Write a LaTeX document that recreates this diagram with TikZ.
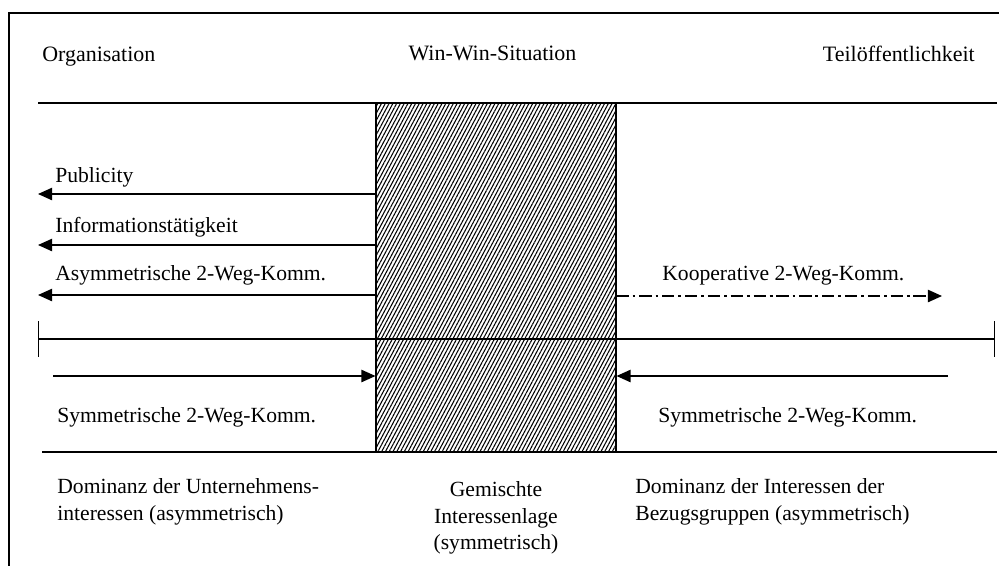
\documentclass[tikz,border=0pt]{standalone}
\usepackage{fontspec}
\setmainfont{Liberation Serif}
\usetikzlibrary{arrows.meta, patterns.meta}
\tikzset{
  head/.style={font=\fontsize{12.5}{15}\selectfont, inner sep=0pt},
  lbl/.style={font=\fontsize{12.3}{15.2}\selectfont, inner sep=0pt},
  winwin/.style={rectangle, draw=black, line width=0.9pt,
    minimum width=4.8cm, minimum height=6.98cm, inner sep=0pt,
    pattern={Lines[angle=62, distance=1.9pt, line width=0.6pt]}},
  flow/.style={-{Triangle[length=8pt, width=7pt]}, line width=0.8pt},
  coop/.style={flow, dash pattern=on 7pt off 2.2pt on 1.6pt off 2.2pt},
  rule/.style={line width=0.7pt}
}

\begin{document}
\begin{tikzpicture}[x=0.02cm, y=-0.02cm]
\useasboundingbox (0,0) rectangle (999,565);

%% Frame (runs out of the picture at right and bottom)
\begin{scope}
  \clip (0,0) rectangle (999,565);
  \draw[line width=0.6pt] (9,13) rectangle (1010,580);
\end{scope}

%% Column heads
\node[head, anchor=base west] (org)  at (42,61)    {Organisation};
\node[head, anchor=base]      (win)  at (492.5,60) {Win-Win-Situation};
\node[head, anchor=base east] (teil) at (975,61)   {Teilöffentlichkeit};

%% Rules
\coordinate (topl) at (38,103);
\coordinate (topr) at (997,103);
\draw[rule] (topl) -- (topr);

%% Win-win zone
\node[winwin] (ww) at (496,277.5) {};

\coordinate (midl) at (38,339);
\coordinate (midr) at (995,339);
\draw[rule, {Bar[width=20pt]}-{Bar[width=20pt]}] (midl) -- (midr);

\coordinate (botl) at (42,452);
\coordinate (botr) at (997,452);
\draw[rule] (botl) -- (botr);

%% ── Organisation side, one-way models
\node[lbl, anchor=base west] (pub)  at (55,182) {Publicity};
\node[lbl, anchor=base west] (info) at (55,232) {Informationstätigkeit};
\node[lbl, anchor=base west] (asym) at (55,280) {Asymmetrische 2-Weg-Komm.};
\coordinate (pubend)  at (38,194);
\coordinate (infoend) at (38,245);
\coordinate (asymend) at (38,295);
\draw[flow] (ww.west |- pubend)  -- (pubend);
\draw[flow] (ww.west |- infoend) -- (infoend);
\draw[flow] (ww.west |- asymend) -- (asymend);

%% ── Teilöffentlichkeit side
\node[lbl, anchor=base west] (koop) at (662,280) {Kooperative 2-Weg-Komm.};
\coordinate (koopend) at (942,296);
\draw[coop] (ww.east |- koopend) -- (koopend);

%% ── Symmetric flows into the win-win zone
\coordinate (syml) at (53,376);
\coordinate (symr) at (948,376);
\draw[flow] (syml) -- (ww.west |- syml);
\draw[flow] (symr) -- (ww.east |- symr);
\node[lbl, anchor=base west] (symltxt) at (57,422)  {Symmetrische 2-Weg-Komm.};
\node[lbl, anchor=base west] (symrtxt) at (658,422) {Symmetrische 2-Weg-Komm.};

%% ── Interests
\node[lbl, anchor=north west, align=left] (domorg) at (57,478)
  {Dominanz der Unternehmens-\\interessen (asymmetrisch)};
\node[lbl, anchor=north, align=center] (mixed) at (496,481)
  {Gemischte\\Interessenlage\\(symmetrisch)};
\node[lbl, anchor=north west, align=left] (domgrp) at (635,478)
  {Dominanz der Interessen der\\Bezugsgruppen (asymmetrisch)};

\end{tikzpicture}
\end{document}
